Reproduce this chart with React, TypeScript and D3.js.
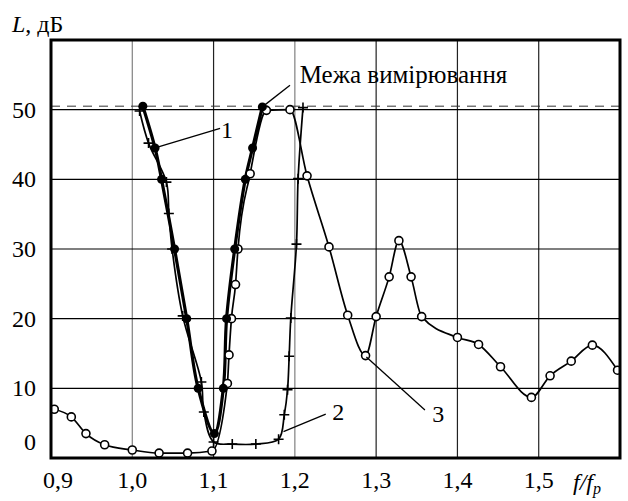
import * as d3 from 'd3'

// curve 1 (filled circles)
const c1F = [1.013, 1.028, 1.036, 1.052, 1.067, 1.081, 1.101, 1.112, 1.116, 1.126, 1.139, 1.148, 1.16]
const c1L = [50.5, 44.5, 40, 30, 20, 10, 3.5, 10, 20, 30, 40, 44.5, 50.4]

// curve 2 (crosses)
const c2F = [1.009, 1.02, 1.042, 1.045, 1.049, 1.062, 1.085, 1.088, 1.1, 1.123, 1.152, 1.18, 1.187, 1.191, 1.193, 1.195, 1.202, 1.204, 1.21]
const c2L = [49.8, 45.2, 39.6, 35.1, 30, 20.4, 10.9, 6.6, 2.3, 2.0, 2.0, 2.7, 6.2, 9.8, 14.6, 20.1, 30.7, 40.1, 50.3]

// curve 3 (open circles)
const c3F = [0.904, 0.925, 0.943, 0.966, 1.0, 1.033, 1.068, 1.098, 1.117, 1.119, 1.122, 1.127, 1.13, 1.145, 1.165, 1.194, 1.215, 1.242, 1.265, 1.287, 1.3, 1.316, 1.328, 1.343, 1.356, 1.4, 1.426, 1.453, 1.491, 1.514, 1.54, 1.566, 1.597]
const c3L = [7.0, 5.9, 3.5, 1.9, 1.15, 0.7, 0.7, 1.0, 10.7, 14.8, 20, 24.9, 30, 40.8, 49.9, 50, 40.5, 30.3, 20.5, 14.7, 20.3, 26, 31.2, 26, 20.3, 17.3, 16.3, 13.1, 8.7, 11.8, 13.9, 16.2, 12.6]

const xTicks = [0.9, 1.0, 1.1, 1.2, 1.3, 1.4, 1.5]
const yTicks = [0, 10, 20, 30, 40, 50]
const LIMIT = 50.5

// leader lines / labels in data units: [f1, L1, f2, L2, textF, textL, text]
const notes: [number, number, number, number, number, number, string][] = [
  [1.16, 50.4, 1.194, 53.5, 1.206, 53.8, 'Межа вимірювання'],
  [1.028, 44.5, 1.108, 47.3, 1.109, 46.0, '1'],
  [1.186, 3.8, 1.238, 6.3, 1.246, 5.4, '2'],
  [1.288, 14.5, 1.36, 6.9, 1.369, 5.1, '3'],
]

const W = 628
const H = 501
const FONT = 'Liberation Serif'

const x = d3.scaleLinear().domain([0.9, 1.6]).range([51, 620])
const y = d3.scaleLinear().domain([0, 60]).range([458, 40])

const smooth = d3.line<[number, number]>()
  .x(d => x(d[0]))
  .y(d => y(d[1]))
  .curve(d3.curveCatmullRom.alpha(0.5))

const mono = d3.line<[number, number]>()
  .x(d => x(d[0]))
  .y(d => y(d[1]))
  .curve(d3.curveMonotoneX)

const fmt = (t: number) => d3.format('.1f')(t).replace('.', ',')

export default function App() {
  const [x0, x1] = x.range()
  const [y0, y1] = y.range()
  const p1 = c1F.map((f, i) => [f, c1L[i]] as [number, number])
  const p2 = c2F.map((f, i) => [f, c2L[i]] as [number, number])
  const p3 = c3F.map((f, i) => [f, c3L[i]] as [number, number])
  const ts = { fontFamily: FONT, fontSize: 24 }

  return (
    <svg
      width={W}
      height={H}
      style={{ position: 'absolute', left: 0, top: 0, display: 'block', background: '#fff' }}
    >
      <defs>
        <clipPath id="plot">
          <rect x={x0} y={y1} width={x1 - x0} height={y0 - y1} />
        </clipPath>
      </defs>

      {/* grid */}
      {xTicks.slice(1).map(t => (
        <line key={'gx' + t} x1={x(t)} x2={x(t)} y1={y1} y2={y0}
          stroke={t === 1.0 || t === 1.2 ? '#808080' : '#222'} strokeWidth={1.2} />
      ))}
      {yTicks.slice(1).map(t => (
        <line key={'gy' + t} x1={x0} x2={x1} y1={y(t)} y2={y(t)} stroke="#000" strokeWidth={1.2} />
      ))}

      {/* measurement limit */}
      <line x1={x0} x2={x1} y1={y(LIMIT)} y2={y(LIMIT)} stroke="#333" strokeWidth={1} strokeDasharray="9,7" />

      <g clipPath="url(#plot)">
        <path d={mono(p3) ?? ''} fill="none" stroke="#000" strokeWidth={1.7} />
        <path d={smooth(p2) ?? ''} fill="none" stroke="#000" strokeWidth={1.7} />
        <path d={smooth(p1) ?? ''} fill="none" stroke="#000" strokeWidth={3.2} />
        {p3.map((d, i) => (
          <circle key={'o' + i} cx={x(d[0])} cy={y(d[1])} r={4} fill="#fff" stroke="#000" strokeWidth={1.6} />
        ))}
        {p2.map((d, i) => {
          const cx = x(d[0]), cy = y(d[1])
          return <path key={'p' + i} d={`M${cx - 5},${cy}H${cx + 5}M${cx},${cy - 5}V${cy + 5}`} stroke="#000" strokeWidth={1.6} />
        })}
        {p1.map((d, i) => (
          <circle key={'f' + i} cx={x(d[0])} cy={y(d[1])} r={4.5} fill="#000" />
        ))}
      </g>

      {/* annotations */}
      {notes.map(([fa, la, fb, lb, ft, lt, txt], i) => (
        <g key={txt}>
          <line x1={x(fa)} y1={y(la)} x2={x(fb)} y2={y(lb)} stroke="#000" strokeWidth={1.3} />
          <text x={x(ft)} y={y(lt)} style={{ ...ts, fontSize: i === 0 ? 25 : 24 }}>{txt}</text>
        </g>
      ))}

      {/* frame */}
      <rect x={x0} y={y1} width={x1 - x0} height={y0 - y1} fill="none" stroke="#000" strokeWidth={3} />

      {/* y tick labels */}
      {yTicks.map(t => (
        <text key={'ly' + t} x={36} y={y(t) + (t === 0 ? -8 : 8)} textAnchor="end" style={ts}>{t}</text>
      ))}

      {/* x tick labels */}
      {xTicks.map((t, i) => (
        <text key={'lx' + t} x={x(t) + (i === 0 ? 7 : 0)} y={488} textAnchor="middle" style={ts}>{fmt(t)}</text>
      ))}

      {/* axis titles */}
      <text x={12} y={32} style={ts}>
        <tspan style={{ fontStyle: 'italic' }}>L</tspan>
        <tspan>, дБ</tspan>
      </text>
      <text x={573} y={490} style={{ ...ts, fontStyle: 'italic' }}>
        <tspan>f/f</tspan>
        <tspan dy={4} style={{ fontSize: 16 }}>р</tspan>
      </text>
    </svg>
  )
}
